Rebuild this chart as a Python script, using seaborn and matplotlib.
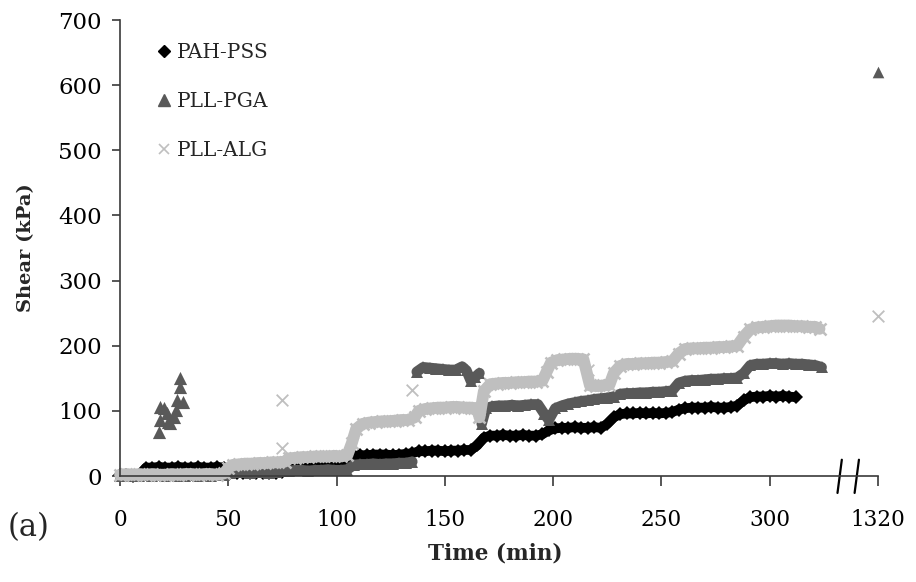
import matplotlib
matplotlib.use("Agg")
import matplotlib.pyplot as plt
from matplotlib.lines import Line2D
import seaborn as sns

# ---------------- data ----------------
series_names = ["PAH-PSS", "PLL-PGA", "PLL-ALG"]

pah_t = [0, 3, 6, 9, 12, 15, 18, 21, 24, 27, 30, 33, 36, 39, 42, 45, 48,
         51, 54, 57, 60, 63, 66, 69, 72, 75,
         78, 81, 84, 87, 90, 93, 96, 99, 102, 105,
         108, 111, 114, 117, 120, 123, 126, 129, 132, 135,
         138, 141, 144, 147, 150, 153, 156, 159, 162, 165,
         168, 171, 174, 177, 180, 183, 186, 189, 192, 195,
         198, 201, 204, 207, 210, 213, 216, 219, 222, 225,
         228, 231, 234, 237, 240, 243, 246, 249, 252, 255,
         258, 261, 264, 267, 270, 273, 276, 279, 282, 285,
         288, 291, 294, 297, 300, 303, 306, 309, 312]
pah_v = [1, 1, 0, 1, 13, 13, 14, 13, 13, 14, 13, 13, 14, 13, 13, 14, 13,
         5, 5, 4, 5, 5, 4, 5, 5, 6,
         16, 17, 18, 17, 18, 18, 17, 18, 18, 24,
         31, 32, 32, 33, 33, 33, 32, 33, 34, 35,
         38, 38, 39, 39, 38, 39, 39, 40, 40, 47,
         59, 62, 62, 63, 62, 62, 63, 62, 62, 64,
         70, 73, 74, 74, 75, 74, 74, 75, 74, 80,
         90, 95, 96, 96, 97, 96, 97, 96, 97, 98,
         102, 104, 105, 105, 105, 106, 105, 105, 106, 108,
         116, 121, 122, 122, 123, 122, 123, 122, 121]

pga_t = [0, 3, 6, 9, 12, 15, 18, 21, 24, 27, 30, 33, 36, 39, 42, 45, 48,
         51, 54, 57, 60, 63, 66, 69, 72, 75,
         78, 81, 84, 87, 90, 93, 96, 99, 102, 105,
         108, 111, 114, 117, 120, 123, 126, 129, 132, 135, 137,
         140, 143, 146, 149, 152, 155, 158, 160, 162, 164, 166, 167,
         169, 172, 175, 178, 181, 184, 187, 190, 193, 196,
         198, 201, 204, 207, 210, 213, 216, 219, 222, 225,
         228, 231, 234, 237, 240, 243, 246, 249, 252, 255,
         258, 261, 264, 267, 270, 273, 276, 279, 282, 285,
         288, 291, 294, 297, 300, 303, 306, 309, 312, 315, 318, 321, 324]
pga_v = [0, 1, 0, 0, 1, 0, 1, 0, 1, 0, 0, 1, 0, 1, 0, 1, 1,
         5, 6, 6, 5, 6, 6, 5, 6, 7,
         8, 9, 9, 8, 9, 9, 10, 9, 9, 10,
         17, 18, 18, 19, 18, 19, 19, 20, 20, 22, 160,
         167, 166, 165, 164, 163, 163, 168, 162, 146, 152, 158, 80,
         104, 107, 108, 108, 109, 108, 109, 110, 110, 95,
         86, 104, 108, 111, 113, 115, 116, 118, 119, 120,
         122, 126, 127, 127, 128, 128, 129, 129, 130, 131,
         143, 146, 147, 147, 148, 149, 149, 150, 150, 151,
         158, 170, 172, 172, 173, 173, 172, 173, 172, 172, 171, 170, 167]

pga_burst_t = [18, 18.5, 18.5, 20.5, 21.5, 22, 23, 25, 26, 26.5, 27.5, 27.5, 29]
pga_burst_v = [68, 106, 86, 104, 96, 83, 81, 91, 101, 117, 137, 150, 114]

alg_t = [0, 3, 6, 9, 12, 15, 18, 21, 24, 27, 30, 33, 36, 39, 42, 45, 48, 50,
         52, 55, 58, 61, 64, 67, 70, 73, 76,
         78, 81, 84, 87, 90, 93, 96, 99, 102, 105,
         107, 109, 112, 115, 118, 121, 124, 127, 130, 133,
         136, 138, 141, 144, 147, 150, 153, 156, 159, 162, 165,
         166, 168, 171, 174, 177, 180, 183, 186, 189, 192, 195,
         197, 199, 202, 205, 208, 211, 214,
         217, 220, 223, 226,
         228, 231, 234, 237, 240, 243, 246, 249, 252, 255,
         258, 261, 264, 267, 270, 273, 276, 279, 282, 285,
         288, 291, 294, 297, 300, 303, 306, 309, 312, 315, 318, 321, 323]
alg_v = [2, 3, 2, 3, 2, 3, 2, 2, 3, 2, 3, 3, 2, 3, 3, 2, 4, 12,
         17, 18, 19, 19, 20, 20, 21, 21, 22,
         27, 28, 29, 29, 30, 30, 30, 31, 30, 32,
         50, 72, 80, 82, 83, 84, 84, 85, 86, 86,
         90, 100, 103, 104, 105, 105, 106, 106, 105, 105, 104,
         90, 130, 141, 142, 143, 143, 144, 144, 145, 145, 146,
         160, 174, 178, 179, 180, 180, 179,
         139, 138, 139, 140,
         158, 169, 172, 172, 173, 173, 174, 174, 175, 176,
         188, 195, 196, 196, 197, 197, 198, 198, 199, 200,
         214, 225, 228, 229, 230, 231, 231, 231, 230, 230, 229, 229, 226]

alg_out_t = [75, 75, 135, 216]
alg_out_v = [117, 43, 132, 163]

# values recorded at 1320 min, shown at the broken end of the axis
end_slot = 350
pga_end_v = [620]
alg_end_v = [245]

x_ticks = [0, 50, 100, 150, 200, 250, 300, 350]
x_labels = ["0", "50", "100", "150", "200", "250", "300", "1320"]
y_ticks = [0, 100, 200, 300, 400, 500, 600, 700]

# ---------------- style ----------------
sns.set_theme(style="white")
plt.rcParams["font.family"] = ["DejaVu Serif"]

c_pah = "#000000"
c_pga = "#595959"
c_alg = "#bfbfbf"
spine_c = "#3a3a3a"

fig = plt.figure(figsize=(9.16, 5.82), dpi=100)
ax = fig.add_axes([0.131, 0.1821, 0.8275, 0.7835])


def segments(t, v, jump=60):
    """split a recorded series where the instrument value jumps abruptly"""
    segs, cur_t, cur_v = [], [t[0]], [v[0]]
    for i in range(1, len(t)):
        if abs(v[i] - v[i - 1]) > jump:
            segs.append((cur_t, cur_v))
            cur_t, cur_v = [], []
        cur_t.append(t[i])
        cur_v.append(v[i])
    segs.append((cur_t, cur_v))
    return segs


def band(t, v, color, marker, lw, ms, mew=0):
    for st, sv in segments(t, v):
        n = len(ax.lines)
        sns.lineplot(x=st, y=sv, color=color, linewidth=lw, marker=marker,
                     markersize=ms, markeredgewidth=mew, markeredgecolor=color,
                     estimator=None, sort=False, ax=ax, legend=False)
        for ln in ax.lines[n:]:
            ln.set_clip_on(False)
            ln.set_solid_joinstyle("round")
            ln.set_solid_capstyle("round")


band(pah_t, pah_v, c_pah, "D", 7.0, 7.5)
band(pga_t, pga_v, c_pga, "^", 7.5, 8.5)
sns.scatterplot(x=pga_burst_t, y=pga_burst_v, color=c_pga, marker="^", s=90,
                edgecolor=c_pga, linewidth=0, ax=ax, legend=False)
band(alg_t, alg_v, c_alg, "x", 8.5, 8.5, 1.8)
sns.scatterplot(x=alg_out_t, y=alg_out_v, color=c_alg, marker="x", s=70,
                linewidth=1.3, ax=ax, legend=False)

sns.scatterplot(x=[end_slot], y=pga_end_v, color=c_pga, marker="^", s=70,
                edgecolor=c_pga, linewidth=0, ax=ax, legend=False, clip_on=False)
sns.scatterplot(x=[end_slot], y=alg_end_v, color=c_alg, marker="x", s=70,
                linewidth=1.3, ax=ax, legend=False, clip_on=False)

ax.set_xlim(0, 350)
ax.set_ylim(0, 700)
ax.set_xticks(x_ticks)
ax.set_xticklabels(x_labels)
ax.set_yticks(y_ticks)

for s in ["top", "right"]:
    ax.spines[s].set_visible(False)
for s in ["left", "bottom"]:
    ax.spines[s].set_color(spine_c)
    ax.spines[s].set_linewidth(1.2)

ax.tick_params(axis="x", direction="out", length=7, width=1.2, color=spine_c,
               pad=17, labelsize=15.5, labelcolor="black", bottom=True)
ax.tick_params(axis="y", direction="out", length=6, width=1.2, color=spine_c,
               pad=7, labelsize=16.5, labelcolor="black", left=True)

ax.set_xlabel("Time (min)", fontsize=15.5, fontweight="bold")
ax.set_ylabel("Shear (kPa)", fontsize=14, fontweight="bold")
ax.xaxis.set_label_coords(0.495, -0.145)
ax.yaxis.set_label_coords(-0.112, 0.5)

# axis break marks
ax.plot([331.3, 333.3], [-26, 25], color="black", lw=1.6, clip_on=False)
ax.plot([339.2, 341.2], [-26, 25], color="black", lw=1.6, clip_on=False)

handles = [
    Line2D([], [], linestyle="None", marker="D", color=c_pah, markersize=6),
    Line2D([], [], linestyle="None", marker="^", color=c_pga, markersize=8),
    Line2D([], [], linestyle="None", marker="x", color=c_alg, markersize=7,
           markeredgewidth=1.2),
]
ax.legend(handles, series_names, loc="upper left", bbox_to_anchor=(0.04, 0.968),
          frameon=False, fontsize=14.5, handlelength=0.6, handletextpad=0.3,
          labelspacing=1.5, borderaxespad=0)

fig.text(0.008, 0.094, "(a)", fontsize=22, va="center", ha="left")

fig.savefig("out.png", dpi=100)
